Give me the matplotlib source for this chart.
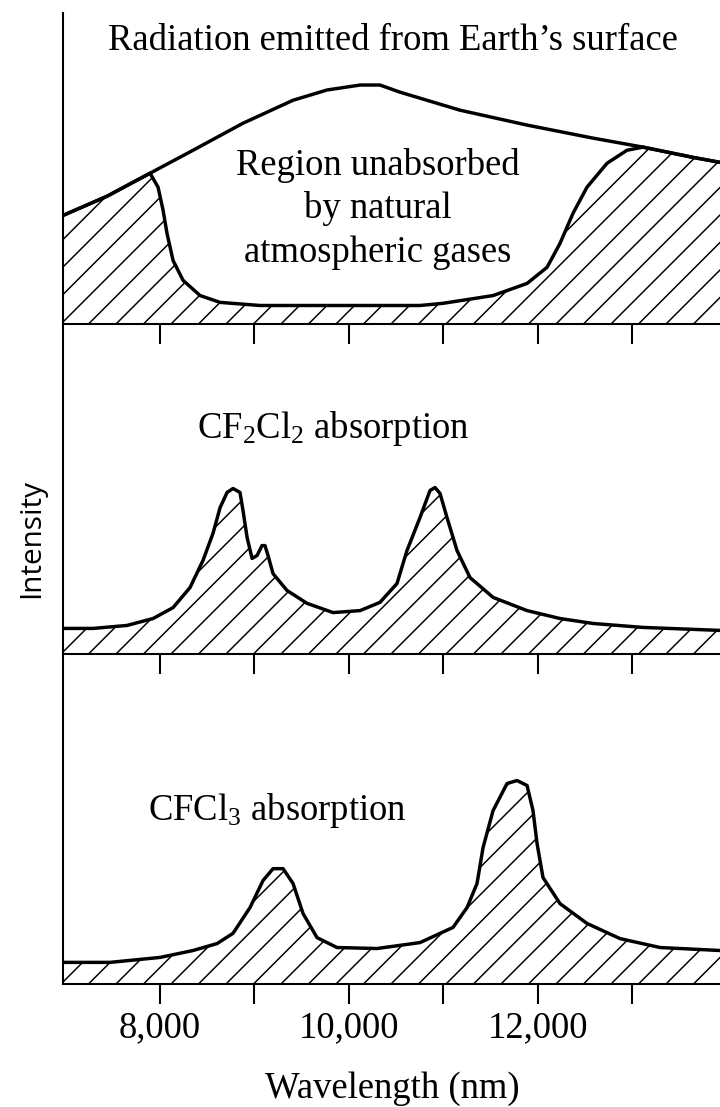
import matplotlib
matplotlib.use('Agg')
import matplotlib.pyplot as plt

# figure is 720 x 1107 px; dpi chosen so the '//' hatch spacing matches (~27 px)
DPI = 165
W, H = 720, 1107

plt.rcParams['font.family'] = ['Liberation Serif', 'DejaVu Serif']
plt.rcParams['mathtext.default'] = 'regular'
plt.rcParams['hatch.linewidth'] = 0.65
plt.rcParams['hatch.color'] = 'black'

# Radiation emitted from Earth's surface (arbitrary intensity, 100 = panel top)
emit_wl = [6972, 7439, 7894, 8350, 8879, 9409, 9769, 10119, 10330, 10542, 10860,
           11178, 11888, 12587, 13117, 13646, 13932]
emit_val = [34.8, 41.0, 48.4, 55.8, 64.5, 71.9, 75.2, 76.8, 76.8, 74.5, 71.6,
            68.7, 63.9, 59.7, 56.8, 53.5, 51.9]

# part absorbed by natural atmospheric gases
absorb_wl = [6972, 7439, 7894, 7979, 8032, 8074, 8138, 8244, 8424, 8636, 9059,
             10119, 10754, 10998, 11528, 11888, 12100, 12237, 12375, 12523, 12735,
             12947, 13117, 13646, 13932]
absorb_val = [34.8, 41.0, 48.4, 43.9, 36.5, 29.0, 20.3, 13.9, 9.0, 6.8, 5.8,
              5.8, 5.8, 6.5, 9.0, 12.9, 18.1, 25.8, 35.5, 43.9, 51.6,
              55.8, 56.8, 53.5, 51.9]

# CF2Cl2 absorption
cf2cl2_wl = [6972, 7290, 7650, 7926, 8138, 8318, 8455, 8561, 8636, 8710, 8773,
             8847, 8879, 8922, 8975, 9028, 9080, 9112, 9144, 9197, 9345, 9557,
             9833, 10119, 10330, 10510, 10616, 10754, 10860, 10913, 10966, 11040,
             11146, 11284, 11528, 11888, 12237, 12587, 13117, 13932]
cf2cl2_val = [7.6, 7.6, 8.5, 10.6, 13.9, 20.0, 28.2, 36.4, 44.2, 48.8, 50.0,
              48.8, 43.3, 35.2, 28.8, 29.7, 32.7, 32.7, 29.7, 24.2, 19.1, 15.2,
              12.4, 13.0, 15.5, 21.2, 31.2, 41.2, 49.4, 50.3, 48.5, 41.2,
              31.2, 23.0, 17.0, 13.0, 10.6, 9.1, 7.9, 7.0]

# CFCl3 absorption
cfcl3_wl = [6972, 7470, 8000, 8350, 8604, 8773, 8953, 9091, 9197, 9303, 9409,
            9515, 9663, 9875, 10299, 10754, 11104, 11252, 11358, 11422, 11528,
            11676, 11782, 11888, 11951, 11994, 12057, 12237, 12523, 12873, 13297, 13932]
cfcl3_val = [6.4, 6.4, 7.9, 10.0, 12.1, 15.2, 23.0, 31.2, 34.8, 34.8, 30.3,
             21.2, 13.9, 10.9, 10.6, 12.4, 17.0, 23.0, 30.3, 41.2, 52.4,
             60.6, 61.5, 60.0, 52.4, 42.4, 32.1, 24.2, 18.2, 13.6, 10.9, 10.0]

tick_wl = [8000, 9000, 10000, 11000, 12000, 13000]
tick_labels = ['8,000', '', '10,000', '', '12,000', '']
region_lines = ['Region unabsorbed', 'by natural', 'atmospheric gases']

XLIM = (6972, 13932)
LW = 1.5
FS = 16


def px_box(left, top, right, bottom):
    return [left / W, 1 - bottom / H, (right - left) / W, (bottom - top) / H]


def fx(px):
    return px / W


def fy(py):
    return 1 - py / H


fig = plt.figure(figsize=(W / DPI, H / DPI), dpi=DPI, facecolor='white')

ax1 = fig.add_axes(px_box(63, 13, 720, 323.5))
ax2 = fig.add_axes(px_box(63, 323.5, 720, 653.5))
ax3 = fig.add_axes(px_box(63, 653.5, 720, 983.5))

for ax in (ax1, ax2, ax3):
    ax.set_xlim(*XLIM)
    ax.set_ylim(0, 100)
    ax.set_facecolor('none')
    for side in ('top', 'right'):
        ax.spines[side].set_visible(False)
    for side in ('left', 'bottom'):
        ax.spines[side].set_linewidth(0.9)
    ax.set_yticks([])
    ax.set_xticks(tick_wl)
    ax.tick_params(axis='x', direction='out', length=8.7, width=0.9, pad=3,
                   labelsize=FS)
    ax.set_xticklabels([])

ax3.set_xticklabels(tick_labels)

# top panel: emission with absorbed part hatched
ax1.fill_between(absorb_wl, 0, absorb_val, facecolor='none', edgecolor='black',
                 hatch='//', linewidth=0)
ax1.plot(emit_wl, emit_val, color='black', lw=LW, solid_joinstyle='round')
ax1.plot(absorb_wl, absorb_val, color='black', lw=LW, solid_joinstyle='round')

ax2.fill_between(cf2cl2_wl, 0, cf2cl2_val, facecolor='none', edgecolor='black',
                 hatch='//', linewidth=0)
ax2.plot(cf2cl2_wl, cf2cl2_val, color='black', lw=LW, solid_joinstyle='round')

ax3.fill_between(cfcl3_wl, 0, cfcl3_val, facecolor='none', edgecolor='black',
                 hatch='//', linewidth=0)
ax3.plot(cfcl3_wl, cfcl3_val, color='black', lw=LW, solid_joinstyle='round')

# labels
fig.text(fx(393), fy(50), "Radiation emitted from Earth\u2019s surface",
         ha='center', va='baseline', fontsize=FS)
for i, line in enumerate(region_lines):
    fig.text(fx(378), fy(175 + 43.5 * i), line, ha='center', va='baseline',
             fontsize=FS)
fig.text(fx(197), fy(438), r'CF$_2$Cl$_2$ absorption', ha='left',
         va='baseline', fontsize=FS)
fig.text(fx(148), fy(820), r'CFCl$_3$ absorption', ha='left',
         va='baseline', fontsize=FS)
fig.text(fx(32), fy(538), 'Intensity', rotation=90, ha='center', va='center',
         fontsize=13, family=['Open Sans', 'DejaVu Sans'])
fig.text(fx(392), fy(1098), 'Wavelength (nm)', ha='center', va='baseline',
         fontsize=FS)

fig.savefig('out.png', dpi=DPI, facecolor='white')
